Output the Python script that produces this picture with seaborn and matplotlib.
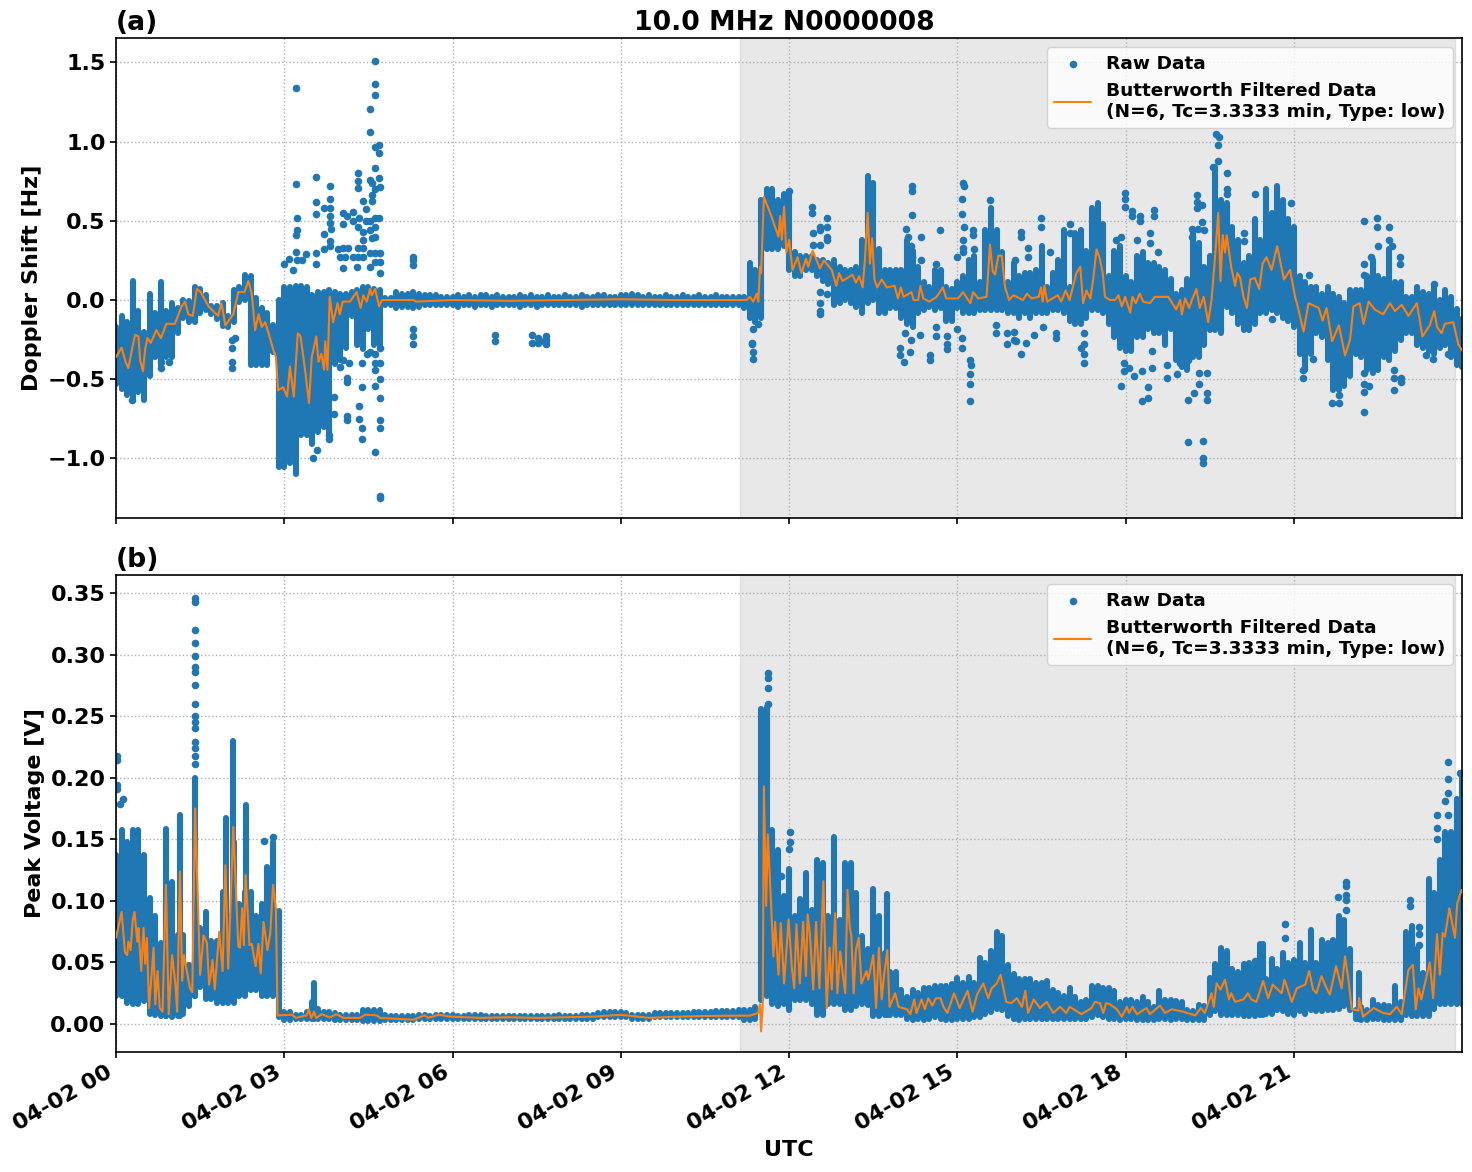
import numpy as np
import pandas as pd
import matplotlib
matplotlib.use("Agg")
import matplotlib.pyplot as plt
import matplotlib.dates as mdates
import seaborn as sns

TITLE = "10.0 MHz N0000008"
RAW_LABEL = "Raw Data"
FILTER_LABEL = "Butterworth Filtered Data\n(N=6, Tc=3.3333 min, Type: low)"
DAY = pd.Timestamp("2024-04-02")
SHADE_START_H = 11.12
SHADE_END_H = 23.87
DOPPLER_TICKS = [-1.0, -0.5, 0.0, 0.5, 1.0, 1.5]
VOLTAGE_TICKS = [0.0, 0.05, 0.10, 0.15, 0.20, 0.25, 0.30, 0.35]

# Doppler shift envelope per 0.1 h column, one row per hour of the day
DOPPLER_HIGH = [
    -.15, -.08, -.12, .14, -.05, -.18, .06, -.06, .13, -.05,
    0, -.03, .02, .01, .10, .09, .05, -.02, -.02, 0,
    -.08, .08, .10, .18, .17, .03, -.03, -.06, -.14, .02,
    .10, .10, .11, .11, .10, .05, .07, .07, .08, .07,
    .06, .06, .07, .08, .10, .10, .09, .08, .03, .03,
    .07, .06, .06, .07, .06, .05, .05, .05, .04, .04,
    .04, .05, .04, .05, .04, .05, .05, .04, .05, .04,
    .04, .04, .05, .04, .05, .04, .04, .05, .04, .04,
    .05, .04, .04, .05, .04, .04, .05, .05, .04, .04,
    .05, .05, .06, .05, .04, .05, .04, .04, .05, .04,
    .04, .05, .04, .04, .05, .04, .04, .05, .04, .04,
    .04, .04, .04, .25, .21, .65, .72, .72, .65, .69,
    .68, .32, .30, .30, .30, .27, .27, .25, .27, .23,
    .21, .21, .23, .40, .80, .76, .34, .21, .21, .21,
    .21, .40, .33, .23, .13, .10, .21, .21, .10, .09,
    .13, .17, .27, .30, .13, .46, .60, .46, .32, .13,
    .25, .17, .19, .19, .21, .36, .10, .19, .27, .46,
    .10, .44, .46, .33, .60, .63, .50, .17, .33, .36,
    .17, .13, .30, .32, .25, .25, .23, .21, .15, .06,
    .08, .15, .44, .38, .23, .30, .86, .65, .63, .48,
    .40, .25, .30, .53, .40, .72, .57, .74, .65, .53,
    .48, .17, .13, .10, .10, .06, .10, .06, .04, 0,
    .08, .08, .08, .17, .27, .17, .15, .34, .13, .13,
    .04, .04, .10, .07, .06, .10, .02, .08, .04, -.04,
    -.10,
]
DOPPLER_LOW = [
    -.55, -.58, -.62, -.64, -.60, -.65, -.50, -.38, -.44, -.38,
    -.38, -.23, -.13, -.16, -.16, -.10, -.08, -.11, -.14, -.18,
    -.19, -.16, -.03, -.02, -.43, -.43, -.43, -.43, -.35, -1.07,
    -1.07, -1.05, -1.12, -.87, -.87, -.93, -.85, -.82, -.87, -.42,
    -.40, -.32, -.12, -.30, -.33, -.20, -.30, -.30, -.05, -.05,
    -.07, -.06, -.06, -.07, -.06, -.05, -.05, -.05, -.05, -.05,
    -.05, -.06, -.05, -.05, -.06, -.05, -.05, -.06, -.05, -.05,
    -.05, -.05, -.06, -.05, -.05, -.06, -.05, -.05, -.05, -.05,
    -.05, -.05, -.05, -.06, -.05, -.05, -.05, -.05, -.05, -.05,
    -.05, -.05, -.05, -.05, -.05, -.05, -.05, -.05, -.05, -.05,
    -.05, -.05, -.05, -.05, -.05, -.05, -.05, -.05, -.05, -.05,
    -.05, -.05, -.07, -.13, -.16, -.13, .30, .30, .30, .32,
    .17, .13, .13, .17, .17, .13, .10, .08, -.05, -.04,
    -.02, -.04, -.06, -.10, -.04, -.02, -.10, -.10, -.07, -.07,
    -.13, -.17, -.19, -.10, -.08, -.06, -.08, -.07, -.15, -.15,
    -.07, -.10, -.10, -.10, -.08, -.08, -.08, -.08, -.08, -.10,
    -.10, -.13, -.10, -.13, -.10, -.10, -.10, -.08, -.08, -.10,
    -.15, -.17, -.17, -.13, -.08, -.08, -.10, -.17, -.25, -.32,
    -.34, -.34, -.25, -.25, -.20, -.23, -.23, -.30, -.20, -.40,
    -.44, -.46, -.38, -.38, -.30, -.21, -.21, -.23, -.06, -.10,
    -.17, -.21, -.21, -.17, -.10, -.10, -.08, -.10, -.13, -.15,
    -.19, -.36, -.46, -.36, -.23, -.25, -.40, -.59, -.59, -.56,
    -.50, -.36, -.38, -.46, -.48, -.46, -.38, -.40, -.34, -.27,
    -.23, -.23, -.30, -.32, -.34, -.36, -.32, -.30, -.38, -.43,
    -.44,
]
# Isolated Doppler samples away from the dense band
DOPPLER_STRAY_T = [
    4.62, 4.62, 4.62, 4.53, 4.53, 3.21, 3.21, 3.57, 3.57, 3.57, 3.82, 3.82, 3.71, 3.82, 4.32, 4.32, 4.32,
    4.69, 4.62, 4.69, 4.62, 4.69, 4.53, 4.57, 4.71, 4.62, 4.57, 4.41, 4.57, 4.46, 4.69, 4.62, 4.05, 4.23,
    4.11, 4.23, 4.34, 3.23, 3.23, 3.21, 3.82, 3.82, 3.84, 3.71, 3.82, 4.05, 4.32, 4.41, 4.53, 4.62, 4.46,
    4.53, 4.62, 4.41, 4.57, 3.00, 3.09, 3.20, 3.39, 3.57, 3.57, 3.32, 3.23, 3.16, 3.71, 3.82, 3.96, 4.05,
    4.14, 3.99, 4.08, 4.32, 4.41, 4.23, 4.32, 4.41, 4.62, 4.71, 4.53, 4.62, 4.71, 4.53, 4.05, 4.29, 4.71,
    4.62, 4.71, 4.71, 4.71, 4.71, 4.71, 4.34, 4.34, 4.39, 4.39, 3.89, 3.89, 4.12, 4.12, 3.80, 3.80, 3.59,
    3.52, 4.12, 4.12, 4.39, 4.62, 4.71, 4.62, 4.62, 4.71, 4.39, 4.16, 4.47, 4.53, 4.62, 4.71, 4.32, 4.05,
    3.99, 2.07, 2.07, 2.07, 2.07, 2.13, .81, .81, .95, .95, .28, 5.3, 5.3, 5.3, 5.29, 5.29, 5.29,
    6.75, 6.75, 7.42, 7.42, 7.53, 7.53, 7.67, 7.67, 7.67, 7.55,
    11.36, 11.36, 11.34, 11.34, 11.36, 11.45, 12.0, 12.41, 12.41, 12.68, 12.55, 12.55, 12.43, 12.68,
    12.68, 12.68, 12.43, 12.55, 12.55, 12.55, 12.55, 12.55, 12.67, 14.19, 14.19, 14.19, 14.35, 14.08,
    14.12, 14.18, 14.19, 14.69, 14.35, 14.61, 15.0, 15.1, 15.11, 15.09, 15.09, 15.12, 15.28, 15.28,
    15.1, 15.1, 15.1, 15.29, 15.23, 15.24, 15.23, 15.23, 15.23, 13.97, 13.97, 14.05, 14.15, 14.18,
    14.06, 14.33, 14.51, 14.51, 14.61, 14.61, 14.81, 14.81, 14.81, 15.0, 15.09, 15.09, 15.68, 15.68,
    15.88, 15.88, 16.0, 16.0, 16.14, 16.05, 16.23, 16.36, 16.52, 16.76, 16.76, 17.26, 17.26, 17.26,
    17.26, 17.2, 15.58, 16.49, 16.49, 16.14, 16.14, 16.26, 16.26, 17.0, 17.0, 16.65, 16.02,
    19.61, 19.66, 19.65, 19.65, 19.56, 19.81, 19.81, 19.81, 19.27, 19.27, 19.27, 19.36, 17.99, 17.99,
    17.99, 18.12, 18.12, 18.26, 18.26, 18.51, 18.51, 20.31, 19.36, 19.19, 19.28, 19.4, 19.19, 17.82,
    17.91, 18.43, 18.43, 18.2, 18.58, 20.1, 20.1, 20.95, 21.26, 22.24, 22.48, 22.48, 22.7, 22.7, 22.24,
    22.24, 22.5, 22.38, 22.74, 22.89, 22.89, 23.5, 19.11, 19.38, 19.38, 19.38, 19.45, 19.45, 19.22,
    19.11, 19.31, 19.45, 19.31, 19.11, 18.4, 18.4, 18.29, 17.92, 18.15, 18.05, 18.29, 17.97, 17.97,
    18.47, 18.47, 18.73, 18.73, 18.91, 18.97, 21.68, 21.8, 21.8, 22.24, 22.24, 22.34, 22.24, 22.24,
    22.79, 22.79, 22.79, 22.91, 22.91, 21.16, 21.16, 21.33, 20.61, 23.36, 23.48, 23.75,
]
DOPPLER_STRAY_V = [
    1.51, 1.365, 1.295, 1.207, 1.06, 1.34, .73, .776, .62, .54, .72, .637, .58, .58, .80, .75, .71,
    .98, .966, .93, .835, .77, .76, .74, .715, .70, .665, .625, .625, .574, .52, .52, .55, .555,
    .53, .50, .52, .52, .44, .41, .53, .485, .45, .415, .37, .48, .46, .43, .50, .46, .50,
    .44, .40, .38, .39, .23, .26, .30, .29, .295, .23, .25, .25, .19, .32, .34, .32, .33,
    .33, .27, .27, .33, .33, .27, .27, .27, .295, .295, .295, .24, .24, .21, .20, .21, .17,
    -.96, -1.235, -1.25, -.755, -.81, -.62, -.67, -.75, -.81, -.88, -.61, -.72, -.73, -.76, -.85, -.88, -.945,
    -1.0, -.49, -.52, -.55, -.54, -.50, -.40, -.44, -.40, -.40, -.40, -.34, -.33, -.34, -.30, -.27, -.38,
    -.42, -.43, -.39, -.30, -.25, -.24, -.43, -.39, -.39, -.32, -.63, .27, .25, .22, -.18, -.23, -.28,
    -.22, -.26, -.22, -.27, -.24, -.27, -.23, -.25, -.28, -.26,
    -.37, -.33, -.27, -.28, -.18, -.15, .69, .585, .55, .52, .46, .44, .42, .46,
    .40, .38, .35, .35, .05, -.02, -.07, -.09, .04, .72, .69, .535, .40, .45,
    .40, .34, .27, .44, .25, .23, .27, .74, .72, .64, .54, .46, .44, .41,
    .38, .33, .30, .32, -.38, -.41, -.47, -.53, -.635, -.30, -.35, -.39, -.33, -.25,
    -.21, -.22, -.35, -.38, -.17, -.23, -.23, -.28, -.31, -.18, -.24, -.30, -.16, -.21,
    -.21, -.28, -.20, -.25, -.34, -.26, -.27, -.22, -.17, -.21, -.24, -.40, -.34, -.28,
    -.21, -.30, .63, .52, .46, .43, .40, .33, .27, .48, .42, .30, .25,
    1.045, 1.03, .98, .88, .84, .80, .70, .67, .66, .62, .58, .60, .675, .64,
    .59, .56, .53, .53, .50, .57, .53, .67, .49, .45, .45, .44, .40, .38,
    .40, .42, .36, .38, .30, .42, .37, .61, .16, .50, .515, .46, .46, .38, .23,
    .16, .34, .27, .34, .27, .23, .10, -.895, -.89, -1.0, -1.03, -.59, -.63, -.585,
    -.63, -.53, -.46, -.46, -.38, -.55, -.62, -.64, -.54, -.48, -.43, -.45, -.40, -.45,
    -.43, -.32, -.41, -.49, -.47, -.40, -.65, -.65, -.60, -.705, -.58, -.54, -.53, -.46,
    -.44, -.49, -.565, -.49, -.52, -.49, -.44, -.37, -.12, -.35, -.37, -.34,
]
DOPPLER_FILTER_T = [
    0, .10, .17, .22, .28, .34, .40, .43, .48, .52, .56, .62, .72, .80, .90, 1.05, 1.17, 1.23, 1.29, 1.37,
    1.44, 1.51, 1.65, 1.82, 1.88, 1.95, 2.09, 2.18, 2.29, 2.36, 2.42, 2.48, 2.54, 2.60, 2.66, 2.72, 2.80,
    2.85, 2.89, 2.98, 3.05, 3.10, 3.17, 3.24, 3.29, 3.37, 3.44, 3.49, 3.57, 3.61, 3.66, 3.71, 3.73, 3.77,
    3.81, 3.87, 3.95, 3.99, 4.04, 4.17, 4.29, 4.36, 4.41, 4.47, 4.53, 4.56, 4.62, 4.69, 4.74, 5.3, 5.35,
    6.0, 7.0, 8.0, 9.0, 10.0, 11.0, 11.24, 11.30, 11.36, 11.42, 11.45, 11.48, 11.50, 11.55, 11.65, 11.72,
    11.81, 11.84, 11.87, 11.91, 11.95, 12.00, 12.06, 12.15, 12.22, 12.30, 12.34, 12.42, 12.55, 12.62,
    12.76, 12.84, 12.89, 12.95, 13.13, 13.19, 13.25, 13.31, 13.35, 13.40, 13.44, 13.48, 13.52, 13.57,
    13.65, 13.74, 13.88, 13.94, 13.99, 14.04, 14.18, 14.22, 14.30, 14.34, 14.39, 14.50, 14.63, 14.74,
    14.80, 14.92, 15.01, 15.10, 15.23, 15.28, 15.37, 15.52, 15.58, 15.63, 15.67, 15.73, 15.79, 15.85,
    15.92, 16.00, 16.17, 16.24, 16.32, 16.45, 16.49, 16.52, 16.55, 16.60, 16.79, 16.85, 16.93, 17.00,
    17.12, 17.19, 17.24, 17.30, 17.37, 17.42, 17.48, 17.54, 17.59, 17.63, 17.72, 17.81, 17.87, 17.93,
    17.99, 18.08, 18.12, 18.18, 18.25, 18.31, 18.43, 18.52, 18.76, 18.90, 18.97, 19.00, 19.06, 19.13,
    19.18, 19.26, 19.32, 19.39, 19.47, 19.53, 19.59, 19.65, 19.69, 19.73, 19.77, 19.80, 19.88, 19.95,
    19.99, 20.04, 20.10, 20.16, 20.22, 20.30, 20.38, 20.44, 20.51, 20.60, 20.70, 20.82, 20.93, 21.02,
    21.08, 21.17, 21.26, 21.44, 21.51, 21.58, 21.68, 21.80, 21.91, 22.00, 22.06, 22.17, 22.24, 22.33,
    22.44, 22.59, 22.71, 22.80, 22.92, 23.04, 23.19, 23.29, 23.42, 23.50, 23.55, 23.63, 23.69, 23.84,
    23.93, 24.0,
]
DOPPLER_FILTER_V = [
    -.36, -.30, -.39, -.43, -.32, -.22, -.23, -.38, -.45, -.31, -.24, -.27, -.19, -.24, -.15, -.15, -.04, -.01, -.09, -.10,
    .07, .05, -.04, -.10, -.02, -.16, -.09, .05, .05, .12, .04, -.19, -.09, -.17, -.14, -.21, -.31,
    -.36, -.57, -.55, -.61, -.42, -.61, -.21, -.23, -.44, -.65, -.36, -.23, -.39, -.34, -.44, -.26, -.44,
    .02, -.14, -.02, -.09, -.01, -.01, .05, -.05, .03, -.01, .07, .03, .07, -.04, 0, 0, -.01,
    0, -.005, 0, .005, 0, 0, 0, .02, -.01, .04, -.01, .21, .17, .65, .56, .49,
    .40, .53, .38, .59, .30, .38, .19, .27, .17, .26, .21, .31, .20, .25,
    .19, .09, .17, .12, .16, .11, .15, .08, .25, .55, .23, .39, .13, .08,
    .13, .08, .09, .01, .08, .02, .05, 0, 0, .09, .01, -.01, .02, .08,
    .01, .01, .01, .05, -.02, .05, .01, .02, .35, .18, .16, .28, .28, .08,
    0, .03, 0, .04, .01, .02, .08, -.01, .09, -.01, .03, -.01, .06, 0,
    .17, .21, -.02, .06, .01, .13, .32, .26, .17, .02, 0, 0, .03, -.04,
    .02, -.08, .02, -.02, .04, -.01, -.02, .02, .02, -.06, 0, -.09, .01, -.05,
    0, .07, -.05, .02, -.14, 0, .26, .55, .12, .41, .30, .41, .21, .09,
    .17, .14, .02, -.05, .13, .14, .07, .23, .27, .19, .34, .13, .19, .02,
    -.06, -.20, -.02, -.05, -.13, -.05, -.26, -.16, -.35, -.25, -.04, -.02, -.15, -.01,
    -.06, -.09, -.02, -.07, -.03, -.10, -.02, -.23, -.16, -.07, -.17, -.21, -.15, -.14,
    -.28, -.32,
]

# Peak voltage envelope per 0.1 h column, one row per hour of the day
VOLTAGE_HIGH = [
    .140, .160, .150, .160, .160, .140, .105, .090, .068, .100,
    .118, .075, .075, .050, .110, .080, .093, .070, .070, .110,
    .090, .150, .100, .110, .110, .090, .100, .130, .150, .094,
    .012, .012, .010, .010, .012, .020, .015, .012, .012, .011,
    .010, .010, .010, .010, .014, .014, .014, .014, .010, .009,
    .009, .009, .009, .009, .010, .010, .009, .010, .010, .010,
    .010, .009, .009, .010, .010, .010, .009, .009, .009, .009,
    .009, .009, .009, .009, .009, .009, .009, .009, .009, .010,
    .009, .009, .009, .010, .010, .010, .011, .012, .012, .012,
    .012, .011, .010, .010, .010, .010, .011, .011, .011, .011,
    .011, .011, .011, .012, .012, .012, .012, .013, .013, .013,
    .013, .014, .014, .014, .016, .258, .260, .160, .144, .106,
    .128, .090, .104, .125, .095, .136, .133, .090, .154, .087,
    .133, .133, .109, .074, .063, .112, .090, .060, .045, .045,
    .030, .024, .030, .028, .032, .032, .033, .033, .033, .035,
    .040, .036, .041, .036, .056, .052, .062, .077, .074, .050,
    .043, .039, .039, .039, .036, .036, .037, .030, .028, .025,
    .032, .024, .020, .022, .033, .033, .032, .032, .029, .020,
    .022, .022, .020, .024, .020, .016, .029, .022, .022, .021,
    .020, .014, .013, .018, .017, .040, .051, .064, .062, .047,
    .045, .051, .052, .050, .067, .039, .055, .047, .060, .052,
    .054, .068, .052, .079, .052, .071, .068, .071, .090, .087,
    .063, .014, .016, .014, .022, .018, .018, .017, .033, .020,
    .077, .082, .063, .044, .120, .109, .136, .158, .158, .185,
    .206,
]
VOLTAGE_LOW = [
    .020, .020, .015, .014, .014, .016, .006, .005, .004, .004,
    .003, .004, .006, .012, .020, .028, .018, .018, .015, .015,
    .015, .015, .020, .020, .025, .025, .020, .020, .020, .0035,
    .001, .001, .002, .002, .0015, .002, .002, .002, .002, .001,
    .001, .001, .001, .001, 0, 0, 0, 0, .001, .001,
    .001, .001, .001, .001, .002, .002, .002, .002, .002, .002,
    .002, .002, .002, .002, .002, .002, .002, .002, .002, .002,
    .002, .002, .002, .002, .002, .002, .002, .002, .002, .002,
    .002, .002, .002, .002, .002, .002, .003, .003, .003, .003,
    .003, .003, .002, .002, .002, .002, .003, .003, .003, .003,
    .003, .003, .003, .003, .003, .003, .003, .003, .003, .003,
    .003, .003, .001, .001, .002, .017, .020, .014, .012, .014,
    .009, .017, .017, .017, .014, .005, .005, .014, .014, .014,
    .009, .009, .012, .014, .013, .004, .004, .005, .005, .005,
    .005, .002, .001, .002, .001, .002, .003, .002, .001, .001,
    .002, .002, .002, .003, .003, .006, .007, .010, .009, .004,
    .002, .001, .002, .002, .002, .002, .002, .002, .002, .002,
    .002, .002, .002, .002, .003, .005, .003, .002, .002, .001,
    .002, .002, .001, .001, .001, .001, .002, .002, .001, .002,
    .002, .001, .001, .001, .001, .005, .008, .005, .005, .005,
    .005, .004, .004, .004, .005, .006, .006, .009, .008, .006,
    .005, .008, .006, .009, .008, .008, .009, .009, .010, .012,
    .009, .002, .001, .001, .002, .002, .001, .001, .001, .001,
    .005, .004, .004, .004, .004, .010, .014, .014, .014, .014,
    .014,
]
# Narrow columns that rise well above their neighbours
VOLTAGE_PEAK_T = [.89, 1.14, 1.41, 1.96, 2.09, 2.32, 3.53, 13.75, 22.16, 20.45]
VOLTAGE_PEAK_LOW = [.004, .004, .020, .020, .020, .025, .002, .005, .002, .005]
VOLTAGE_PEAK_HIGH = [.161, .172, .202, .170, .232, .180, .036, .108, .044, .067]
VOLTAGE_STRAY_T = [
    1.41, 1.41, 1.41, 1.41, 1.41, 1.41, 1.41, 1.41, 1.41, 1.41, 1.41, 1.41, 1.41, 1.41, 1.41, 1.41,
    .01, .01, .01, .01, .13, .07, 2.63, 2.79, 11.63, 11.63, 11.63, 11.63, 12.01, 12.01, 12.0, 11.85,
    23.75, 23.75, 23.75, 23.69, 23.55, 23.55, 23.55, 23.75, 23.96, 20.30, 21.79, 21.93, 21.93, 21.93,
    21.93, 21.93, 20.84, 20.84, 23.07, 23.07, 23.23, 23.23, 23.23,
]
VOLTAGE_STRAY_V = [
    .346, .343, .320, .309, .299, .290, .286, .275, .260, .250, .245, .240, .229, .224, .218, .211,
    .218, .214, .194, .191, .183, .179, .149, .152, .285, .281, .273, .260, .156, .148, .142, .120,
    .213, .199, .188, .181, .170, .159, .150, .170, .204, .051, .103, .115, .112, .105,
    .101, .093, .081, .070, .101, .096, .079, .073, .064,
]
VOLTAGE_FILTER_T = [
    0, .10, .16, .20, .22, .26, .30, .33, .38, .40, .45, .49, .52, .55, .59, .67, .70, .74, .78, .83, .89, .94,
    1.0, 1.06, 1.09, 1.14, 1.18, 1.21, 1.32, 1.36, 1.41, 1.50, 1.56, 1.62, 1.66, 1.69, 1.72, 1.76, 1.84, 1.90,
    1.95, 2.0, 2.03, 2.09, 2.18, 2.21, 2.25, 2.28, 2.31, 2.38, 2.42, 2.49, 2.54, 2.58, 2.63, 2.70, 2.75, 2.80,
    2.85, 2.88, 3.13, 3.21, 3.40, 3.44, 3.48, 3.53, 3.57, 3.67, 3.81, 3.93, 4.05, 4.35, 4.44, 4.65, 4.71, 5.3,
    5.5, 5.57, 5.75, 5.95, 6.5, 7.0, 7.5, 8.0, 8.5, 9.0, 9.2, 9.5, 10.0, 10.5, 10.95, 11.30, 11.45, 11.48, 11.50,
    11.53, 11.55, 11.59, 11.62, 11.69, 11.72, 11.75, 11.81, 11.85, 11.91, 11.99, 12.05, 12.09, 12.13, 12.19,
    12.25, 12.30, 12.33, 12.37, 12.43, 12.48, 12.54, 12.61, 12.67, 12.72, 12.76, 12.82, 12.86, 12.91, 12.96,
    13.0, 13.04, 13.08, 13.11, 13.15, 13.19, 13.24, 13.29, 13.38, 13.41, 13.50, 13.55, 13.60, 13.65, 13.69,
    13.75, 13.79, 13.89, 13.95, 14.10, 14.16, 14.23, 14.27, 14.36, 14.42, 14.48, 14.55, 14.62, 14.70, 14.75,
    14.82, 14.94, 15.04, 15.18, 15.27, 15.35, 15.46, 15.55, 15.61, 15.70, 15.77, 15.87, 15.96, 16.06, 16.15,
    16.21, 16.26, 16.36, 16.47, 16.59, 16.71, 16.83, 16.94, 17.0, 17.21, 17.39, 17.45, 17.54, 17.60, 17.65,
    17.72, 17.84, 17.93, 18.02, 18.06, 18.12, 18.20, 18.37, 18.43, 18.61, 18.70, 18.82, 19.03, 19.24, 19.34,
    19.41, 19.53, 19.57, 19.62, 19.69, 19.77, 19.84, 19.88, 19.95, 20.10, 20.18, 20.24, 20.33, 20.45, 20.54,
    20.62, 20.78, 20.83, 20.96, 21.05, 21.20, 21.27, 21.34, 21.40, 21.49, 21.58, 21.64, 21.75, 21.85, 21.91,
    21.97, 22.03, 22.15, 22.16, 22.23, 22.42, 22.59, 22.71, 22.83, 22.92, 23.04, 23.12, 23.17, 23.22, 23.27,
    23.33, 23.42, 23.48, 23.55, 23.60, 23.65, 23.69, 23.77, 23.87, 23.91, 23.99,
]
VOLTAGE_FILTER_V = [
    .070, .091, .058, .056, .067, .060, .085, .091, .067, .078, .043, .078, .049, .070, .013, .062, .016, .043, .013, .010, .113, .008,
    .056, .032, .010, .124, .035, .056, .029, .026, .175, .040, .072, .066, .032, .040, .052, .028, .075, .043,
    .129, .045, .082, .160, .063, .062, .094, .064, .121, .064, .065, .047, .065, .041, .083, .060, .074, .113,
    .094, .007, .0076, .005, .007, .012, .005, .010, .005, .008, .0054, .008, .005, .005, .0076, .007, .005, .0035,
    .007, .005, .0076, .006, .005, .0055, .005, .0055, .006, .0075, .0065, .005, .006, .0065, .0068, .0068, .009, .016, -.006,
    .017, .193, .096, .154, .085, .055, .083, .040, .082, .033, .085, .045, .029, .081, .033,
    .083, .039, .089, .073, .028, .083, .029, .116, .013, .062, .028, .090, .025, .059, .039,
    .025, .109, .079, .071, .025, .060, .070, .033, .043, .036, .056, .013, .062, .020, .039,
    .060, .014, .025, .014, .012, .008, .020, .009, .020, .012, .021, .015, .021, .021, .014,
    .009, .025, .013, .027, .010, .024, .033, .021, .029, .033, .040, .018, .017, .021, .014,
    .027, .009, .020, .013, .018, .009, .014, .009, .014, .008, .013, .018, .017, .009, .017,
    .016, .012, .006, .014, .009, .014, .008, .013, .008, .015, .009, .012, .010, .007, .013,
    .009, .025, .014, .033, .028, .036, .020, .025, .018, .020, .025, .020, .018, .035, .021,
    .032, .025, .036, .018, .029, .032, .043, .028, .025, .039, .029, .024, .047, .029, .055,
    .036, .012, .011, .021, .006, .013, .009, .008, .014, .008, .044, .048, .012, .029, .020,
    .032, .050, .021, .073, .040, .074, .071, .094, .070, .098, .109,
]

HOURS = [h / 10 for h in range(241)]
BLUE = "#1f77b4"
ORANGE = "#ff7f0e"


def stamps(hours):
    """Turn hours after midnight into timestamps on the observation day."""
    return DAY + pd.to_timedelta(np.asarray(hours, dtype=float), unit="h")


def draw_panel(ax, high, low, stray_t, stray_v, filt_t, filt_v, dot_radius,
               peak_t=(), peak_low=(), peak_high=()):
    ax.axvspan(stamps([SHADE_START_H])[0], stamps([SHADE_END_H])[0],
               color="#808080", alpha=0.18, lw=1, zorder=0)

    # Round-capped columns carry the dotted edge; the fill closes the gaps between them
    col_t = list(HOURS) + list(peak_t)
    col_low = np.array(list(low) + list(peak_low), dtype=float) + dot_radius
    col_high = np.array(list(high) + list(peak_high), dtype=float) - dot_radius
    mid = (col_low + col_high) / 2
    col_low, col_high = np.minimum(col_low, mid), np.maximum(col_high, mid)
    n_grid = len(HOURS)
    ax.fill_between(mdates.date2num(stamps(HOURS)), col_low[:n_grid], col_high[:n_grid],
                    color=BLUE, linewidth=0, step="mid", zorder=2)
    ax.vlines(mdates.date2num(stamps(col_t)), col_low, col_high, color=BLUE,
              linewidth=4.4, capstyle="round", zorder=2)

    sns.scatterplot(x=stamps(stray_t), y=stray_v, ax=ax, color=BLUE, s=30,
                    linewidth=0, label=RAW_LABEL, zorder=2.1)
    sns.lineplot(x=stamps(filt_t), y=filt_v, ax=ax, color=ORANGE, linewidth=1.5,
                 label=FILTER_LABEL, estimator=None, sort=False, zorder=3)

    ax.set_axisbelow("line")
    ax.grid(True, linestyle=":", color="#b0b0b0", linewidth=1)
    # Stops just short of the next midnight so that tick is not drawn
    ax.set_xlim(DAY, DAY + pd.Timedelta(hours=23.995))
    ax.xaxis.set_major_locator(mdates.HourLocator(byhour=range(0, 24, 3)))
    ax.xaxis.set_major_formatter(mdates.DateFormatter("%m-%d %H"))
    ax.tick_params(axis="both", labelsize=16, width=1.2, length=4)
    for spine in ax.spines.values():
        spine.set_linewidth(1.2)
    ax.legend(loc="upper right", framealpha=0.8, borderaxespad=0.5,
              prop={"weight": "bold", "size": 13.3})


sns.set_theme(style="ticks", rc={"font.family": "DejaVu Sans", "font.weight": "bold",
                                 "axes.labelweight": "bold", "axes.titleweight": "bold",
                                 "text.color": "black", "axes.labelcolor": "black",
                                 "axes.edgecolor": "black", "xtick.color": "black",
                                 "ytick.color": "black"})
fig = plt.figure(figsize=(14.72, 11.72), dpi=100)
W, H = 1472, 1172
ax_a = fig.add_axes([116 / W, 1 - 518 / H, (1462 - 116) / W, (518 - 38) / H])
ax_b = fig.add_axes([116 / W, 1 - 1052 / H, (1462 - 116) / W, (1052 - 575) / H])

draw_panel(ax_a, DOPPLER_HIGH, DOPPLER_LOW, DOPPLER_STRAY_T, DOPPLER_STRAY_V,
           DOPPLER_FILTER_T, DOPPLER_FILTER_V, 0.019)
draw_panel(ax_b, VOLTAGE_HIGH, VOLTAGE_LOW, VOLTAGE_STRAY_T, VOLTAGE_STRAY_V,
           VOLTAGE_FILTER_T, VOLTAGE_FILTER_V, 0.0024,
           VOLTAGE_PEAK_T, VOLTAGE_PEAK_LOW, VOLTAGE_PEAK_HIGH)

ax_a.set_ylim(-1.376, 1.654)
ax_a.set_yticks(DOPPLER_TICKS)
ax_a.set_yticklabels(["\u22121.0", "\u22120.5", "0.0", "0.5", "1.0", "1.5"])
ax_a.set_ylabel("Doppler Shift [Hz]", fontsize=16)
ax_a.set_title(TITLE, fontsize=19.2, fontweight="bold", pad=6, x=0.4963)
ax_a.set_title("(a)", loc="left", fontsize=19.2, fontweight="bold", pad=6)
ax_a.tick_params(axis="x", labelbottom=False)
ax_a.set_xlabel("")

ax_b.set_ylim(-0.0227, 0.3646)
ax_b.set_yticks(VOLTAGE_TICKS)
ax_b.set_yticklabels([f"{v:.2f}" for v in VOLTAGE_TICKS])
ax_b.set_ylabel("Peak Voltage [V]", fontsize=16)
ax_b.set_title("(b)", loc="left", fontsize=19.2, fontweight="bold", pad=6)
ax_b.set_xlabel("UTC", fontsize=16)
for label in ax_b.get_xticklabels():
    label.set_rotation(30)
    label.set_ha("right")

fig.savefig("out.png", dpi=100)
